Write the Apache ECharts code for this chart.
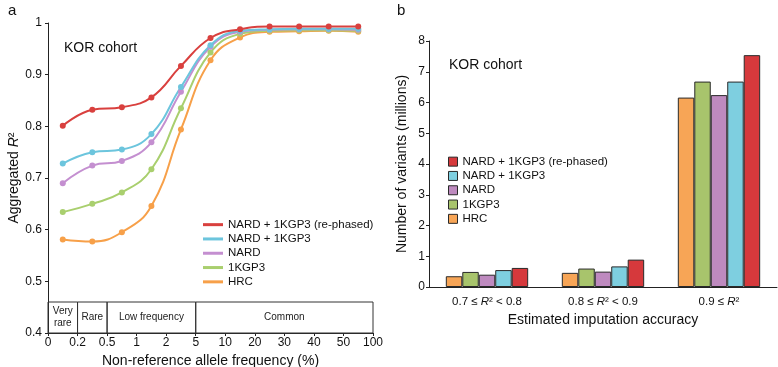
<!DOCTYPE html>
<html><head><meta charset="utf-8">
<script src="https://cdn.jsdelivr.net/npm/echarts@6/dist/echarts.min.js"></script>
<style>html,body{margin:0;padding:0;background:#fff}#c{width:778px;height:367px}</style>
</head><body><div id="c"></div>
<script>
// ---- Panel a data ----
const freqTickLabels = ['0','0.2','0.5','1','2','5','10','20','30','40','50','100'];
const freqBinCount = 11; // points sit at bin midpoints between successive ticks
const rephased = [0.801,0.832,0.837,0.856,0.917,0.971,0.988,0.993,0.993,0.993,0.993];
const nardKgp = [0.728,0.750,0.755,0.785,0.876,0.957,0.985,0.988,0.989,0.989,0.989];
const nard    = [0.690,0.724,0.733,0.769,0.867,0.954,0.983,0.987,0.988,0.988,0.987];
const kgp3    = [0.634,0.650,0.672,0.717,0.835,0.943,0.979,0.985,0.986,0.986,0.985];
const hrc     = [0.581,0.577,0.595,0.646,0.794,0.928,0.972,0.983,0.984,0.985,0.983];
const bandEdges = [0,1,2,5,11];
const bandLabels = ['Very\nrare','Rare','Low frequency','Common'];
const bandTop = 0.46;

// ---- Panel b data ----
const accCats = ['0.7','0.8','0.9'];
const barHRC      = [0.35,0.46,6.16];
const barKGP3     = [0.49,0.60,6.68];
const barNARD     = [0.40,0.50,6.24];
const barNardKgp  = [0.55,0.67,6.68];
const barRephased = [0.62,0.89,7.54];

const names = ['NARD + 1KGP3 (re-phased)','NARD + 1KGP3','NARD','1KGP3','HRC'];
const lineColors = {'NARD + 1KGP3 (re-phased)':'#D9403E','NARD + 1KGP3':'#6CC5DD','NARD':'#C48FD0','1KGP3':'#A9CF6E','HRC':'#F7A049'};
const barColors  = {'NARD + 1KGP3 (re-phased)':'#D6393C','NARD + 1KGP3':'#7ECFE0','NARD':'#BE8ABF','1KGP3':'#A8C46C','HRC':'#F7A556'};

const FONT = 'Liberation Sans, Arial, sans-serif';
const lineData = {'NARD + 1KGP3 (re-phased)':rephased,'NARD + 1KGP3':nardKgp,'NARD':nard,'1KGP3':kgp3,'HRC':hrc};
const barData = {'HRC':barHRC,'1KGP3':barKGP3,'NARD':barNARD,'NARD + 1KGP3':barNardKgp,'NARD + 1KGP3 (re-phased)':barRephased};

const lineSeries = ['HRC','1KGP3','NARD','NARD + 1KGP3','NARD + 1KGP3 (re-phased)'].map(n => ({
  name: n, type: 'line', xAxisIndex: 0, yAxisIndex: 0,
  data: lineData[n].map((v,i) => [i+0.5, v]),
  smooth: 0.45, symbol: 'circle', symbolSize: 6,
  lineStyle: {color: lineColors[n], width: 2},
  itemStyle: {color: lineColors[n]},
  emphasis: {disabled: true}
}));

const bandSeries = {
  name: 'bands', type: 'line', xAxisIndex: 0, yAxisIndex: 0, data: [], silent: true,
  markArea: {
    silent: true,
    itemStyle: {color: 'rgba(0,0,0,0)', borderColor: '#333', borderWidth: 1},
    label: {position: 'inside', color: '#222', fontSize: 10, fontFamily: FONT, lineHeight: 12},
    data: bandLabels.map((l,i) => [{xAxis: bandEdges[i], yAxis: 0.4, name: l}, {xAxis: bandEdges[i+1], yAxis: bandTop}])
  }
};

const barSeries = ['HRC','1KGP3','NARD','NARD + 1KGP3','NARD + 1KGP3 (re-phased)'].map(n => ({
  name: n, type: 'bar', xAxisIndex: 1, yAxisIndex: 1,
  data: barData[n], barGap: '0%', barCategoryGap: '29%',
  itemStyle: {color: barColors[n], borderColor: '#2a2a2a', borderWidth: 1},
  emphasis: {disabled: true}
}));

const accLabel = {
  '0.7': '{t|0.7 ≤ }{i|R}{t|² < 0.8}',
  '0.8': '{t|0.8 ≤ }{i|R}{t|² < 0.9}',
  '0.9': '{t|0.9 ≤ }{i|R}{t|²}'
};

const option = {
  animation: false,
  textStyle: {fontFamily: FONT},
  title: [
    {text: 'a', left: 3, top: -2, textStyle: {fontSize: 15, fontWeight: 'normal', color: '#111', fontFamily: FONT}},
    {text: 'b', left: 392, top: -2, textStyle: {fontSize: 15, fontWeight: 'normal', color: '#111', fontFamily: FONT}},
    {text: 'KOR cohort', left: 59, top: 36, textStyle: {fontSize: 14, fontWeight: 'normal', color: '#111', fontFamily: FONT}},
    {text: 'KOR cohort', left: 444, top: 53, textStyle: {fontSize: 14, fontWeight: 'normal', color: '#111', fontFamily: FONT}}
  ],
  legend: [
    {
      data: names.map(n => ({name: n, icon: 'rect', itemStyle: {color: lineColors[n]}})),
      orient: 'vertical', left: 198, top: 213, itemWidth: 20, itemHeight: 3, itemGap: 1,
      textStyle: {fontSize: 11.5, color: '#111', fontFamily: FONT, lineHeight: 13.3}, selectedMode: false
    },
    {
      data: names.map(n => ({name: n, icon: 'rect', itemStyle: {color: barColors[n], borderColor: '#2a2a2a', borderWidth: 1}})),
      orient: 'vertical', left: 443, top: 150, itemWidth: 9, itemHeight: 9, itemGap: 1,
      textStyle: {fontSize: 11.5, color: '#111', fontFamily: FONT, lineHeight: 13.3}, selectedMode: false
    }
  ],
  grid: [
    {left: 48, right: 405, top: 23, bottom: 34, outerBoundsMode: 'none', containLabel: false},
    {left: 429, right: 1, top: 41, bottom: 80, outerBoundsMode: 'none', containLabel: false}
  ],
  xAxis: [
    {
      gridIndex: 0, type: 'value', min: 0, max: freqBinCount, interval: 1,
      name: 'Non-reference allele frequency (%)', nameLocation: 'middle', nameGap: 21,
      nameTextStyle: {fontSize: 14, color: '#111'},
      axisLine: {lineStyle: {color: '#222'}}, axisTick: {show: true, length: 3, lineStyle: {color: '#222'}},
      axisLabel: {fontSize: 12, color: '#111', margin: 4, formatter: v => freqTickLabels[v] ?? ''},
      splitLine: {show: false}
    },
    {
      gridIndex: 1, type: 'category', data: accCats,
      name: 'Estimated imputation accuracy', nameLocation: 'middle', nameGap: 26,
      nameTextStyle: {fontSize: 14, color: '#111'},
      axisLine: {lineStyle: {color: '#222'}}, axisTick: {show: false},
      axisLabel: {interval: 0, margin: 9, formatter: v => accLabel[v],
        rich: {t: {fontSize: 11.5, color: '#111'}, i: {fontSize: 11.5, color: '#111', fontStyle: 'italic'}}}
    }
  ],
  yAxis: [
    {
      gridIndex: 0, type: 'value', min: 0.4, max: 1, interval: 0.1,
      name: 'Aggregated {i|R}{t|²}', nameLocation: 'middle', nameGap: 24,
      nameTextStyle: {fontSize: 14, color: '#111', rich: {t: {fontSize: 14, color: '#111'}, i: {fontSize: 14, color: '#111', fontStyle: 'italic'}}},
      axisLine: {show: true, lineStyle: {color: '#222'}}, axisTick: {show: true, length: 3, lineStyle: {color: '#222'}},
      axisLabel: {fontSize: 12, color: '#111', margin: 6},
      splitLine: {show: false}
    },
    {
      gridIndex: 1, type: 'value', min: 0, max: 8, interval: 1,
      name: 'Number of variants (millions)', nameLocation: 'middle', nameGap: 20,
      nameTextStyle: {fontSize: 14, color: '#111'},
      axisLine: {show: true, lineStyle: {color: '#222'}}, axisTick: {show: true, length: 3, lineStyle: {color: '#222'}},
      axisLabel: {fontSize: 12, color: '#111', margin: 4},
      splitLine: {show: false}
    }
  ],
  series: [bandSeries, ...lineSeries, ...barSeries]
};
const chart = echarts.init(document.getElementById('c'), null, {renderer: 'canvas'});
chart.setOption(option);
</script></body></html>
